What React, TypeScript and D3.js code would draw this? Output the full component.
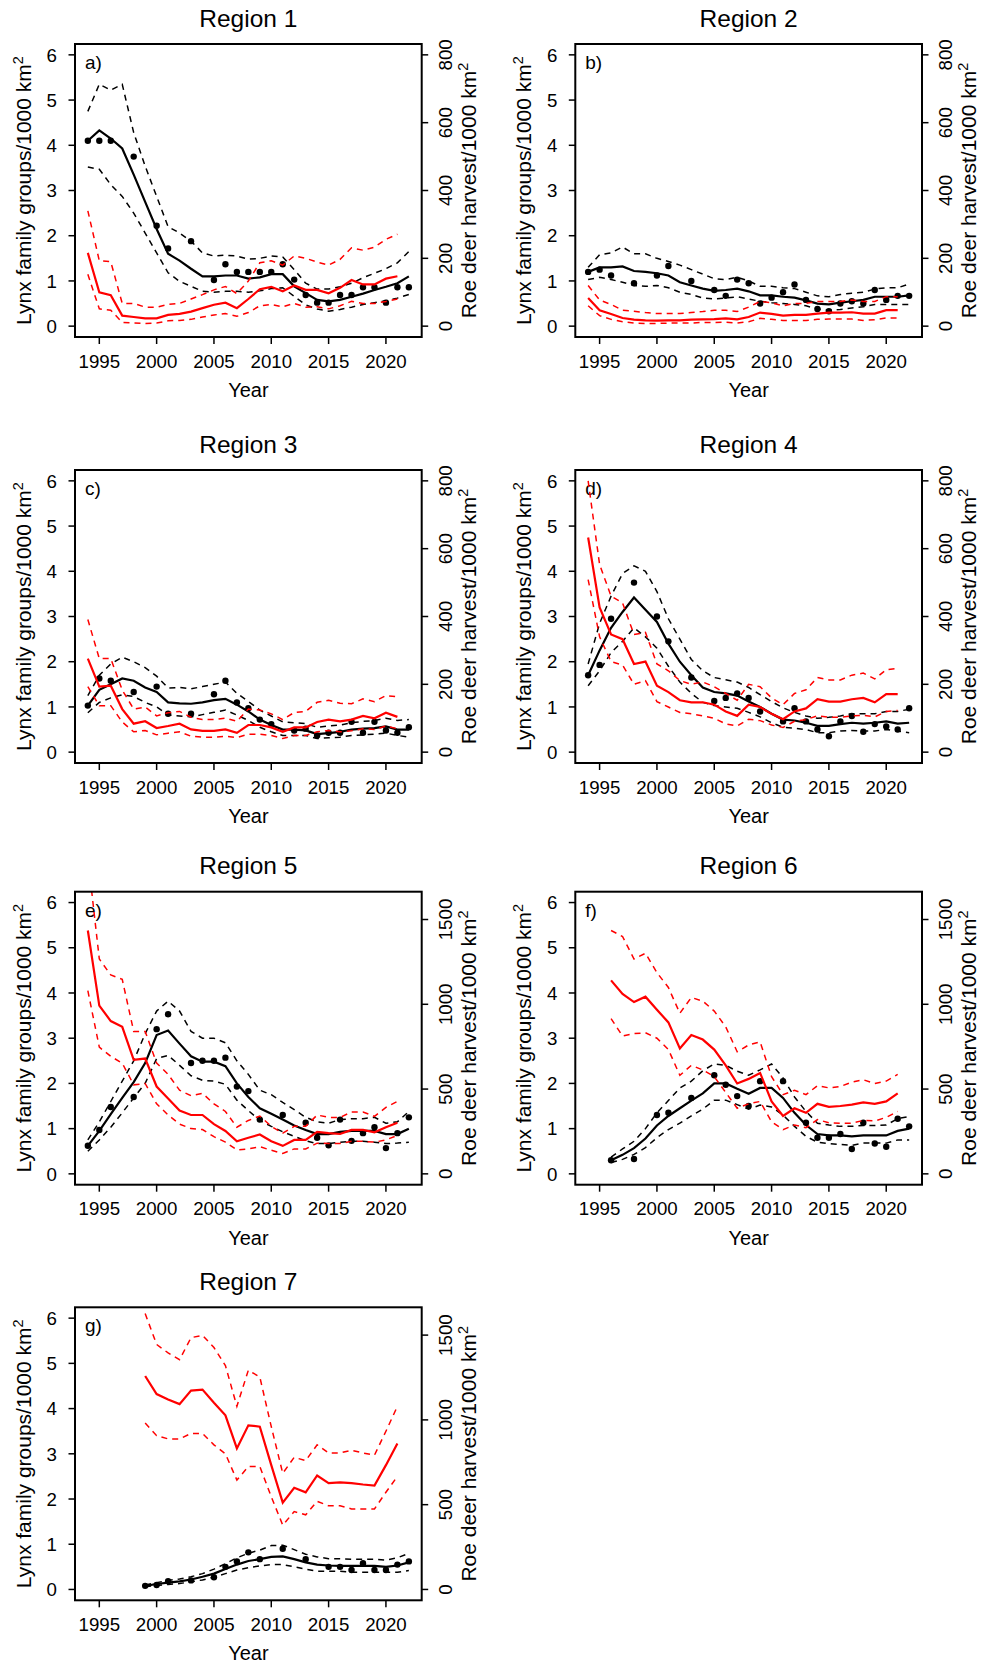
import React from 'react';
import * as d3 from 'd3';

// ---------- labels & ticks ----------
const REGION_TITLES = ['Region 1', 'Region 2', 'Region 3', 'Region 4', 'Region 5', 'Region 6', 'Region 7'];
const PANEL_LETTERS = ['a)', 'b)', 'c)', 'd)', 'e)', 'f)', 'g)'];
const START_YEARS = [1994, 1994, 1994, 1994, 1994, 1996, 1999];
const HARVEST_MAX = [800, 800, 800, 800, 1600, 1600, 1600];
const HARVEST_TICKS_SMALL = [0, 200, 400, 600, 800];
const HARVEST_TICKS_LARGE = [0, 500, 1000, 1500];
const LYNX_TICKS = [0, 1, 2, 3, 4, 5, 6];
const YEAR_TICKS = [1995, 2000, 2005, 2010, 2015, 2020];
const YEAR_MIN = 1994;
const YEAR_MAX = 2022;
const LYNX_MAX = 6;

// ---------- Region 1 ----------
const R1_OBS = [4.1, 4.1, 4.1, null, 3.75, null, 2.22, 1.72, null, 1.88, null, 1.02, 1.37, 1.2, 1.2, 1.2, 1.2, 1.37, 1.03, 0.69, 0.52, 0.52, 0.69, 0.69, 0.86, 0.86, 0.52, 0.86, 0.86];
const R1_MEAN = [4.1, 4.33, 4.15, 3.93, 3.35, 2.75, 2.15, 1.6, 1.45, 1.27, 1.1, 1.1, 1.12, 1.12, 1.05, 1.08, 1.15, 1.15, 0.88, 0.73, 0.58, 0.55, 0.58, 0.65, 0.72, 0.8, 0.87, 0.95, 1.1];
const R1_HI = [4.75, 5.35, 5.22, 5.35, 4.28, 3.54, 2.87, 2.2, 2.06, 1.88, 1.62, 1.55, 1.57, 1.55, 1.48, 1.5, 1.55, 1.53, 1.25, 0.95, 0.82, 0.82, 0.87, 0.95, 1.07, 1.17, 1.27, 1.4, 1.65];
const R1_LO = [3.52, 3.47, 3.13, 2.87, 2.5, 2.06, 1.62, 1.18, 0.99, 0.88, 0.77, 0.75, 0.77, 0.77, 0.75, 0.78, 0.83, 0.85, 0.66, 0.47, 0.38, 0.33, 0.37, 0.42, 0.48, 0.52, 0.56, 0.62, 0.7];
const R1_HARV = [216, 100, 91, 31, 27, 23, 23, 33, 36, 43, 53, 63, 69, 53, 80, 109, 116, 103, 120, 107, 107, 97, 113, 136, 123, 123, 140, 147];
const R1_HARV_HI = [340, 193, 190, 67, 67, 56, 56, 64, 67, 80, 93, 107, 117, 96, 133, 187, 193, 180, 207, 200, 189, 180, 197, 231, 224, 233, 256, 271];
const R1_HARV_LO = [153, 51, 47, 11, 9, 8, 9, 16, 17, 20, 27, 33, 37, 29, 40, 60, 64, 57, 67, 56, 57, 51, 60, 73, 67, 67, 73, 80];

// ---------- Region 2 ----------
const R2_OBS = [1.2, 1.25, 1.12, null, 0.95, null, 1.12, 1.33, null, 1.0, null, 0.8, 0.67, 1.03, 0.95, 0.5, 0.63, 0.75, 0.92, 0.58, 0.38, 0.33, 0.5, 0.55, 0.5, 0.8, 0.58, 0.67, 0.67];
const R2_MEAN = [1.2, 1.3, 1.3, 1.32, 1.22, 1.2, 1.17, 1.12, 0.97, 0.9, 0.83, 0.78, 0.8, 0.83, 0.77, 0.68, 0.68, 0.65, 0.63, 0.57, 0.5, 0.48, 0.52, 0.55, 0.58, 0.65, 0.65, 0.65, 0.68];
const R2_HI = [1.3, 1.58, 1.62, 1.75, 1.6, 1.6, 1.5, 1.43, 1.35, 1.25, 1.15, 1.05, 1.03, 1.08, 1.0, 0.88, 0.88, 0.85, 0.83, 0.75, 0.67, 0.65, 0.7, 0.73, 0.75, 0.82, 0.85, 0.85, 0.93];
const R2_LO = [1.03, 1.08, 1.03, 0.97, 0.9, 0.88, 0.9, 0.85, 0.75, 0.7, 0.62, 0.6, 0.62, 0.65, 0.6, 0.55, 0.52, 0.5, 0.48, 0.45, 0.38, 0.35, 0.37, 0.4, 0.43, 0.48, 0.48, 0.48, 0.48];
const R2_HARV = [83, 47, 36, 24, 19, 17, 16, 17, 17, 19, 20, 21, 23, 20, 27, 40, 36, 31, 33, 33, 37, 40, 40, 41, 37, 37, 47, 47];
const R2_HARV_HI = [120, 77, 64, 47, 44, 40, 37, 37, 37, 40, 43, 47, 47, 43, 56, 73, 69, 60, 67, 67, 73, 73, 73, 77, 73, 73, 87, 87];
const R2_HARV_LO = [60, 31, 20, 13, 9, 8, 8, 9, 9, 9, 11, 11, 12, 9, 13, 23, 20, 17, 17, 17, 20, 21, 21, 21, 17, 19, 24, 24];

// ---------- Region 3 ----------
const R3_OBS = [1.03, 1.63, 1.58, null, 1.33, null, 1.45, 0.85, null, 0.85, null, 1.28, 1.58, 1.1, 0.97, 0.72, 0.62, null, 0.48, 0.52, 0.37, 0.43, 0.43, 0.67, 0.43, 0.67, 0.48, 0.43, 0.55];
const R3_MEAN = [1.03, 1.38, 1.5, 1.63, 1.58, 1.43, 1.33, 1.1, 1.08, 1.07, 1.1, 1.15, 1.18, 1.05, 0.9, 0.72, 0.6, 0.5, 0.5, 0.48, 0.4, 0.42, 0.45, 0.5, 0.52, 0.53, 0.57, 0.5, 0.5];
const R3_HI = [1.25, 1.7, 1.95, 2.1, 2.0, 1.87, 1.68, 1.42, 1.43, 1.4, 1.45, 1.5, 1.55, 1.3, 1.12, 0.93, 0.8, 0.67, 0.65, 0.63, 0.55, 0.58, 0.6, 0.65, 0.68, 0.7, 0.75, 0.7, 0.72];
const R3_LO = [0.87, 1.1, 1.2, 1.27, 1.23, 1.1, 1.0, 0.82, 0.8, 0.78, 0.83, 0.88, 0.93, 0.82, 0.7, 0.55, 0.45, 0.37, 0.37, 0.37, 0.3, 0.32, 0.33, 0.37, 0.38, 0.4, 0.42, 0.37, 0.33];
const R3_HARV = [276, 193, 196, 127, 84, 91, 71, 77, 84, 67, 63, 63, 67, 57, 80, 80, 73, 60, 73, 73, 89, 96, 91, 96, 107, 100, 116, 104];
const R3_HARV_HI = [391, 276, 276, 183, 127, 133, 107, 116, 120, 103, 96, 96, 100, 91, 127, 124, 113, 96, 117, 120, 147, 153, 144, 143, 157, 149, 167, 163];
const R3_HARV_LO = [193, 137, 137, 89, 60, 64, 51, 56, 60, 47, 44, 44, 47, 43, 53, 53, 49, 40, 49, 49, 60, 64, 60, 63, 69, 67, 77, 69];

// ---------- Region 4 ----------
const R4_OBS = [1.7, 1.93, 2.95, null, 3.75, null, 3.0, 2.45, null, 1.65, null, 1.13, 1.2, 1.3, 1.2, 0.9, null, 0.68, 0.97, 0.68, 0.5, 0.35, 0.68, 0.8, 0.45, 0.62, 0.57, 0.5, 0.97];
const R4_MEAN = [1.7, 2.25, 2.75, 3.1, 3.42, 3.15, 2.88, 2.4, 2.0, 1.7, 1.43, 1.33, 1.3, 1.25, 1.12, 1.0, 0.85, 0.72, 0.7, 0.65, 0.58, 0.58, 0.62, 0.65, 0.63, 0.65, 0.68, 0.63, 0.65];
const R4_HI = [1.95, 2.85, 3.45, 3.95, 4.12, 4.0, 3.55, 2.95, 2.5, 2.05, 1.8, 1.65, 1.6, 1.55, 1.43, 1.27, 1.12, 0.98, 0.88, 0.8, 0.75, 0.77, 0.8, 0.85, 0.85, 0.85, 0.9, 0.9, 0.95];
const R4_LO = [1.47, 1.8, 2.2, 2.45, 2.75, 2.55, 2.3, 1.9, 1.55, 1.3, 1.1, 1.03, 1.0, 0.97, 0.88, 0.78, 0.65, 0.55, 0.53, 0.5, 0.43, 0.43, 0.47, 0.48, 0.47, 0.47, 0.5, 0.47, 0.43];
const R4_HARV = [633, 427, 347, 333, 260, 267, 196, 177, 153, 147, 147, 140, 120, 107, 140, 133, 113, 97, 120, 129, 156, 149, 149, 156, 160, 147, 171, 171];
const R4_HARV_HI = [800, 553, 460, 440, 347, 353, 260, 240, 211, 200, 207, 193, 173, 153, 200, 193, 160, 140, 173, 184, 220, 213, 213, 227, 233, 216, 243, 247];
const R4_HARV_LO = [509, 340, 267, 257, 200, 211, 149, 133, 117, 113, 107, 100, 83, 77, 97, 93, 80, 73, 91, 96, 107, 103, 103, 107, 109, 104, 120, 123];

// ---------- Region 5 ----------
const R5_OBS = [0.62, 0.97, 1.48, null, 1.7, null, 3.2, 3.53, null, 2.45, 2.5, 2.5, 2.57, 1.93, 1.83, 1.2, null, 1.3, null, 1.13, 0.8, 0.63, 1.2, 0.73, 0.9, 1.03, 0.57, 0.9, 1.25];
const R5_MEAN = [0.62, 0.95, 1.32, 1.68, 2.03, 2.45, 3.07, 3.17, 2.88, 2.6, 2.48, 2.48, 2.38, 2.0, 1.7, 1.45, 1.33, 1.2, 1.07, 0.97, 0.88, 0.88, 0.93, 0.95, 0.95, 0.95, 0.88, 0.88, 1.0];
const R5_HI = [0.75, 1.15, 1.6, 2.05, 2.5, 3.1, 3.6, 3.82, 3.6, 3.15, 3.0, 3.0, 2.9, 2.5, 2.2, 1.85, 1.75, 1.58, 1.42, 1.25, 1.15, 1.12, 1.2, 1.22, 1.22, 1.25, 1.12, 1.15, 1.38];
const R5_LO = [0.5, 0.75, 1.03, 1.35, 1.68, 2.0, 2.55, 2.62, 2.4, 2.17, 2.07, 2.05, 1.98, 1.63, 1.4, 1.18, 1.05, 0.93, 0.83, 0.73, 0.67, 0.67, 0.7, 0.72, 0.72, 0.7, 0.67, 0.68, 0.7];
const R5_HARV = [1435, 992, 901, 867, 672, 680, 515, 445, 373, 347, 347, 293, 253, 192, 213, 232, 192, 165, 200, 200, 248, 240, 235, 259, 259, 245, 275, 301];
const R5_HARV_HI = [1867, 1267, 1173, 1147, 840, 840, 653, 587, 493, 461, 475, 413, 368, 275, 315, 341, 280, 240, 280, 280, 347, 333, 333, 365, 365, 339, 392, 427];
const R5_HARV_LO = [1080, 747, 693, 653, 525, 533, 413, 347, 293, 267, 261, 219, 187, 141, 147, 160, 139, 120, 147, 147, 181, 179, 179, 192, 192, 187, 200, 227];

// ---------- Region 6 ----------
const R6_OBS = [0.3, null, 0.33, null, 1.3, 1.35, null, 1.68, null, 2.18, 1.97, 1.72, 1.5, 2.05, null, 2.05, null, 1.13, 0.8, 0.8, 0.88, 0.55, 1.13, 0.67, 0.6, 1.22, 1.05];
const R6_MEAN = [0.3, 0.42, 0.57, 0.78, 1.07, 1.28, 1.45, 1.62, 1.78, 2.0, 2.0, 1.88, 1.77, 1.9, 1.9, 1.68, 1.35, 1.08, 0.88, 0.85, 0.85, 0.83, 0.85, 0.85, 0.85, 0.95, 1.0];
const R6_HI = [0.37, 0.55, 0.72, 1.0, 1.35, 1.62, 1.9, 2.05, 2.28, 2.43, 2.4, 2.27, 2.18, 2.3, 2.43, 2.12, 1.7, 1.38, 1.12, 1.08, 1.05, 1.05, 1.07, 1.07, 1.08, 1.22, 1.27];
const R6_LO = [0.25, 0.32, 0.43, 0.58, 0.8, 0.98, 1.12, 1.28, 1.43, 1.63, 1.63, 1.53, 1.43, 1.52, 1.48, 1.3, 1.05, 0.83, 0.7, 0.67, 0.65, 0.63, 0.68, 0.68, 0.68, 0.75, 0.75];
const R6_HARV = [1141, 1061, 1013, 1045, 968, 893, 739, 819, 792, 733, 640, 533, 560, 595, 427, 341, 387, 360, 413, 395, 400, 408, 421, 413, 427, 475];
const R6_HARV_HI = [1435, 1400, 1267, 1301, 1187, 1099, 947, 1040, 1019, 960, 867, 720, 760, 779, 573, 467, 493, 467, 520, 507, 515, 541, 555, 533, 547, 587];
const R6_HARV_LO = [915, 813, 827, 832, 800, 733, 581, 640, 613, 573, 480, 387, 413, 427, 307, 261, 288, 272, 320, 301, 299, 299, 315, 312, 333, 368];

// ---------- Region 7 ----------
const R7_OBS = [0.08, 0.1, 0.18, null, 0.2, null, 0.27, 0.5, 0.62, 0.82, 0.67, null, 0.9, null, 0.67, null, 0.5, 0.5, 0.43, 0.58, 0.43, 0.43, 0.55, 0.62];
const R7_MEAN = [0.08, 0.12, 0.15, 0.18, 0.22, 0.28, 0.35, 0.45, 0.55, 0.63, 0.67, 0.72, 0.73, 0.67, 0.6, 0.55, 0.53, 0.52, 0.52, 0.52, 0.52, 0.5, 0.53, 0.6];
const R7_HI = [0.1, 0.15, 0.2, 0.23, 0.28, 0.35, 0.45, 0.57, 0.7, 0.8, 0.87, 0.97, 0.98, 0.88, 0.78, 0.72, 0.68, 0.68, 0.67, 0.67, 0.67, 0.65, 0.7, 0.8];
const R7_LO = [0.06, 0.09, 0.11, 0.13, 0.17, 0.21, 0.27, 0.35, 0.43, 0.48, 0.52, 0.55, 0.55, 0.5, 0.45, 0.4, 0.4, 0.4, 0.38, 0.38, 0.38, 0.38, 0.38, 0.42];
const R7_HARV = [1259, 1152, 1120, 1093, 1173, 1179, 1101, 1027, 832, 968, 960, 733, 512, 600, 573, 672, 627, 632, 627, 619, 613, 733, 861];
const R7_HARV_HI = [1627, 1445, 1395, 1355, 1485, 1499, 1427, 1320, 1080, 1293, 1253, 960, 685, 779, 760, 853, 805, 805, 821, 805, 792, 933, 1080];
const R7_HARV_LO = [981, 907, 888, 888, 920, 920, 853, 800, 645, 725, 725, 547, 379, 459, 440, 520, 493, 493, 475, 475, 475, 573, 667];

const OBS = [R1_OBS, R2_OBS, R3_OBS, R4_OBS, R5_OBS, R6_OBS, R7_OBS];
const MEAN = [R1_MEAN, R2_MEAN, R3_MEAN, R4_MEAN, R5_MEAN, R6_MEAN, R7_MEAN];
const HI = [R1_HI, R2_HI, R3_HI, R4_HI, R5_HI, R6_HI, R7_HI];
const LO = [R1_LO, R2_LO, R3_LO, R4_LO, R5_LO, R6_LO, R7_LO];
const HARV = [R1_HARV, R2_HARV, R3_HARV, R4_HARV, R5_HARV, R6_HARV, R7_HARV];
const HARV_HI = [R1_HARV_HI, R2_HARV_HI, R3_HARV_HI, R4_HARV_HI, R5_HARV_HI, R6_HARV_HI, R7_HARV_HI];
const HARV_LO = [R1_HARV_LO, R2_HARV_LO, R3_HARV_LO, R4_HARV_LO, R5_HARV_LO, R6_HARV_LO, R7_HARV_LO];

// ---------- layout ----------
const COL_LEFT = [75, 575.3];
const ROW_TOP = [44, 470, 891.7, 1307.3];
const BOX_W = 346.7;
const BOX_H = 293;
const FONT = '"Liberation Sans", Arial, Helvetica, sans-serif';
const RED = '#ff0000';

type Series = (number | null)[];

function Panel({ idx }: { idx: number }) {
  const left = COL_LEFT[idx % 2];
  const top = ROW_TOP[Math.floor(idx / 2)];
  const right = left + BOX_W;
  const bottom = top + BOX_H;
  const ext = (YEAR_MAX - YEAR_MIN) * 0.04;
  const x = d3.scaleLinear().domain([YEAR_MIN - ext, YEAR_MAX + ext]).range([left, right]);
  const y = d3.scaleLinear().domain([-0.04 * LYNX_MAX, 1.04 * LYNX_MAX]).range([bottom, top]);
  const hMax = HARVEST_MAX[idx];
  const yh = d3.scaleLinear().domain([-0.04 * hMax, 1.04 * hMax]).range([bottom, top]);
  const hTicks = hMax === 800 ? HARVEST_TICKS_SMALL : HARVEST_TICKS_LARGE;
  const start = START_YEARS[idx];

  const lynxLine = d3.line<number | null>()
    .defined(d => d != null)
    .x((_, i) => x(start + i))
    .y(d => y(d as number));
  const harvLine = d3.line<number | null>()
    .defined(d => d != null)
    .x((_, i) => x(start + i))
    .y(d => yh(d as number));

  const clipId = `clip-${idx}`;
  const midY = (top + bottom) / 2;
  const midX = (left + right) / 2;
  const obs: Series = OBS[idx];

  return (
    <g>
      <defs>
        <clipPath id={clipId}>
          <rect x={left} y={top} width={BOX_W} height={BOX_H} />
        </clipPath>
      </defs>
      {/* title */}
      <text x={midX} y={top - 17.5} textAnchor="middle" fontSize={24.5} fontFamily={FONT}>{REGION_TITLES[idx]}</text>
      {/* panel letter */}
      <text x={left + 10} y={top + 25} fontSize={19} fontFamily={FONT}>{PANEL_LETTERS[idx]}</text>

      <g clipPath={`url(#${clipId})`} fill="none">
        <path d={lynxLine(HI[idx]) || ''} stroke="#000" strokeWidth={1.5} strokeDasharray="6,5" />
        <path d={lynxLine(LO[idx]) || ''} stroke="#000" strokeWidth={1.5} strokeDasharray="6,5" />
        <path d={lynxLine(MEAN[idx]) || ''} stroke="#000" strokeWidth={2.2} />
        {obs.map((d, i) => d == null ? null : (
          <circle key={i} cx={x(start + i)} cy={y(d)} r={3.2} fill="#000" stroke="none" />
        ))}
        <path d={harvLine(HARV_HI[idx]) || ''} stroke={RED} strokeWidth={1.5} strokeDasharray="6,5" />
        <path d={harvLine(HARV_LO[idx]) || ''} stroke={RED} strokeWidth={1.5} strokeDasharray="6,5" />
        <path d={harvLine(HARV[idx]) || ''} stroke={RED} strokeWidth={2.2} />
      </g>

      {/* box */}
      <rect x={left} y={top} width={BOX_W} height={BOX_H} fill="none" stroke="#000" strokeWidth={2} />

      {/* x axis */}
      {YEAR_TICKS.map(t => (
        <g key={`xt${t}`}>
          <line x1={x(t)} x2={x(t)} y1={bottom} y2={bottom + 7} stroke="#000" strokeWidth={1.5} />
          <text x={x(t)} y={bottom + 30.5} textAnchor="middle" fontSize={18.7} fontFamily={FONT}>{t}</text>
        </g>
      ))}
      <text x={midX} y={bottom + 60} textAnchor="middle" fontSize={20} fontFamily={FONT}>Year</text>

      {/* left axis */}
      {LYNX_TICKS.map(t => (
        <g key={`yl${t}`}>
          <line x1={left - 6.5} x2={left} y1={y(t)} y2={y(t)} stroke="#000" strokeWidth={1.5} />
          <text x={left - 18} y={y(t) + 6.7} textAnchor="end" fontSize={18.7} fontFamily={FONT}>{t}</text>
        </g>
      ))}
      <text transform={`translate(${left - 44},${midY}) rotate(-90)`} textAnchor="middle" fontSize={21} fontFamily={FONT}>
        Lynx family groups/1000 km<tspan dy={-8} fontSize={14.5}>2</tspan>
      </text>

      {/* right axis */}
      {hTicks.map(t => (
        <g key={`yr${t}`}>
          <line x1={right} x2={right + 6.5} y1={yh(t)} y2={yh(t)} stroke="#000" strokeWidth={1.5} />
          <text transform={`translate(${right + 30},${yh(t)}) rotate(-90)`} textAnchor="middle" fontSize={18.7} fontFamily={FONT}>{t}</text>
        </g>
      ))}
      <text transform={`translate(${right + 54},${midY}) rotate(-90)`} textAnchor="middle" fontSize={21} fontFamily={FONT}>
        Roe deer harvest/1000 km<tspan dy={-8} fontSize={14.5}>2</tspan>
      </text>
    </g>
  );
}

export default function App() {
  return (
    <svg width={983} height={1664} viewBox="0 0 983 1664"
      style={{ position: 'absolute', left: 0, top: 0, background: '#fff' }}>
      <rect x={0} y={0} width={983} height={1664} fill="#fff" />
      {REGION_TITLES.map((_, i) => <Panel key={i} idx={i} />)}
    </svg>
  );
}
